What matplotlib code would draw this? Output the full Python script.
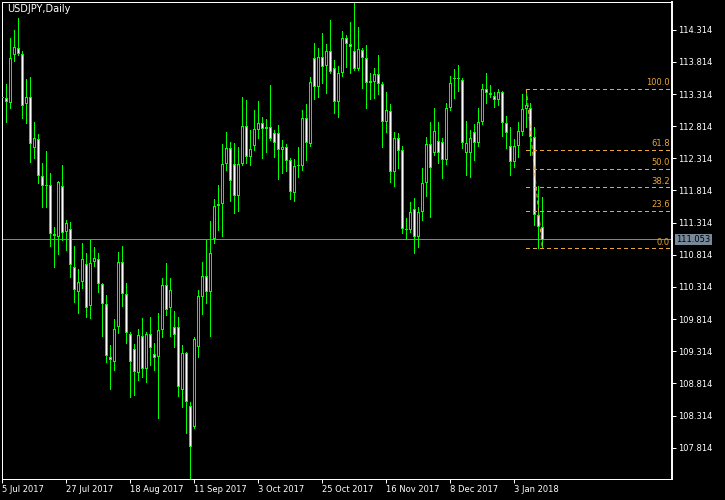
"""
USDJPY daily candles with a Fibonacci retracement, MT4 style (black scheme).
"""
import matplotlib
matplotlib.use("Agg")
import matplotlib.pyplot as plt
import matplotlib.transforms as mtransforms

symbol_title = "USDJPY,Daily"

# one entry per daily bar, starting 5 Jul 2017
opens = [
    113.26, 113.25, 113.17, 113.92, 114.03, 113.94, 113.16, 113.27, 112.47, 112.61,
    112.04, 111.88, 111.90, 111.14, 111.09, 111.88, 111.17, 111.22, 110.62, 110.24,
    110.39, 110.67, 110.02, 110.70, 110.75, 110.36, 110.05, 109.22, 109.15, 109.69,
    110.70, 110.20, 109.58, 109.35, 108.98, 109.55, 109.04, 109.58, 109.27, 109.22,
    109.64, 110.34, 109.99, 109.69, 109.69, 108.71, 109.29, 108.46, 108.14, 109.38,
    110.16, 110.48, 110.24, 111.06, 111.57, 111.60, 112.23, 112.47, 112.23, 111.73,
    112.23, 112.82, 112.33, 112.51, 112.75, 112.86, 112.77, 112.80, 112.71, 112.71,
    112.44, 112.49, 112.29, 111.78, 112.19, 112.19, 112.94, 112.54, 113.87, 113.42,
    113.89, 113.75, 113.98, 113.72, 113.19, 113.64, 114.19, 114.09, 113.98, 113.70,
    114.00, 113.87, 113.49, 113.50, 113.63, 113.47, 112.88, 113.05, 112.10, 112.63,
    112.44, 111.21, 111.20, 111.53, 111.09, 111.48, 111.93, 112.54, 112.40, 112.58,
    112.57, 112.29, 113.10, 113.55, 113.56, 113.53, 112.40, 112.40, 112.72, 112.55,
    112.88, 113.39, 113.33, 113.28, 113.22, 113.35, 112.86, 112.51, 112.26, 112.51,
    112.72, 113.08, 113.10, 112.65, 111.43, 111.25,
]
highs = [
    113.28, 113.47, 114.19, 114.31, 114.50, 113.98, 113.55, 113.58, 112.88, 112.69,
    112.24, 112.43, 112.09, 111.25, 111.96, 112.21, 111.36, 111.32, 110.95, 110.59,
    111.00, 110.84, 111.04, 110.94, 110.84, 110.38, 110.19, 109.41, 109.82, 110.86,
    110.95, 110.38, 109.61, 109.43, 109.66, 109.83, 109.61, 109.85, 109.44, 109.91,
    110.45, 110.69, 110.45, 109.94, 109.85, 109.41, 109.30, 108.52, 109.54, 110.27,
    110.70, 111.04, 111.34, 111.68, 111.90, 112.54, 112.72, 112.57, 112.55, 112.49,
    113.27, 113.22, 112.75, 113.07, 113.21, 112.96, 112.93, 113.45, 112.75, 112.83,
    112.60, 112.54, 112.32, 112.30, 112.49, 113.07, 113.16, 113.58, 114.11, 114.03,
    114.26, 114.09, 114.47, 113.84, 113.75, 114.29, 114.23, 114.43, 114.73, 114.36,
    114.03, 114.08, 113.64, 113.72, 113.92, 113.50, 113.35, 113.16, 112.72, 112.71,
    112.51, 111.39, 111.63, 111.70, 111.56, 112.16, 112.65, 112.88, 113.10, 112.88,
    112.63, 113.17, 113.59, 113.70, 113.77, 113.56, 112.89, 112.75, 112.85, 113.10,
    113.47, 113.64, 113.45, 113.35, 113.39, 113.36, 112.97, 112.80, 112.61, 112.88,
    113.31, 113.39, 113.17, 112.80, 111.88, 111.71,
]
lows = [
    113.24, 112.88, 113.10, 113.83, 113.92, 112.94, 112.86, 112.26, 112.32, 111.93,
    111.56, 111.56, 110.95, 110.62, 110.83, 111.04, 110.89, 110.47, 110.08, 109.91,
    110.30, 109.85, 109.83, 110.64, 110.24, 109.55, 109.15, 108.73, 109.02, 109.60,
    110.02, 109.44, 108.60, 108.63, 108.87, 108.91, 108.84, 109.10, 109.02, 108.28,
    109.54, 109.88, 109.55, 109.38, 108.62, 108.45, 108.04, 107.34, 108.12, 109.22,
    109.89, 110.06, 109.55, 111.00, 111.20, 111.11, 112.13, 111.65, 111.46, 111.50,
    112.21, 112.24, 112.21, 112.44, 112.63, 112.32, 112.41, 112.60, 112.33, 111.99,
    112.09, 112.12, 111.68, 111.65, 112.02, 112.13, 112.29, 112.51, 113.24, 113.27,
    113.49, 113.33, 113.64, 113.02, 112.96, 113.59, 113.73, 113.64, 113.68, 113.68,
    113.41, 113.10, 113.24, 113.25, 113.31, 112.49, 112.72, 111.95, 111.88, 112.16,
    111.15, 111.06, 111.17, 110.84, 110.93, 111.35, 111.73, 111.40, 112.37, 112.24,
    112.01, 112.23, 113.07, 113.25, 113.36, 112.47, 112.05, 112.02, 112.29, 112.51,
    112.85, 113.17, 113.27, 113.11, 113.14, 112.66, 112.47, 112.05, 112.18, 112.33,
    112.68, 112.80, 112.37, 111.28, 110.92, 110.92,
]
closes = [
    113.25, 113.19, 113.87, 114.05, 113.94, 113.13, 113.27, 112.54, 112.63, 112.04,
    111.88, 111.90, 111.14, 111.11, 111.95, 111.15, 111.31, 110.66, 110.27, 110.39,
    110.75, 109.99, 110.69, 110.76, 110.36, 110.05, 109.24, 109.18, 109.66, 110.70,
    110.20, 109.60, 109.15, 108.99, 109.57, 109.04, 109.58, 109.36, 109.21, 109.64,
    110.34, 109.96, 110.27, 109.57, 108.76, 109.29, 108.52, 107.82, 109.50, 110.17,
    110.48, 110.24, 110.84, 111.57, 111.60, 112.23, 112.47, 111.96, 111.73, 112.23,
    112.82, 112.33, 112.46, 112.77, 112.86, 112.77, 112.80, 112.61, 112.55, 112.44,
    112.49, 112.27, 111.79, 112.19, 112.21, 112.94, 112.55, 113.50, 113.42, 113.89,
    113.73, 113.98, 113.66, 113.19, 113.64, 114.19, 114.09, 114.05, 113.70, 114.01,
    113.87, 113.49, 113.52, 113.63, 113.47, 112.88, 113.07, 112.10, 112.63, 112.43,
    111.21, 111.20, 111.48, 111.09, 111.48, 111.93, 112.54, 112.16, 112.74, 112.40,
    112.29, 113.10, 113.49, 113.56, 113.55, 112.55, 112.55, 112.63, 112.55, 112.88,
    113.39, 113.33, 113.30, 113.22, 113.35, 112.86, 112.71, 112.26, 112.51, 112.74,
    113.08, 113.14, 112.65, 111.43, 111.25, 111.05,
]

date_labels = ["5 Jul 2017", "27 Jul 2017", "18 Aug 2017", "11 Sep 2017", "3 Oct 2017",
               "25 Oct 2017", "16 Nov 2017", "8 Dec 2017", "3 Jan 2018"]
bars_per_label = 16

price_ticks = [107.814, 108.314, 108.814, 109.314, 109.814, 110.314, 110.814,
               111.314, 111.814, 112.314, 112.814, 113.314, 113.814, 114.314]

fib_levels = [100.0, 61.8, 50.0, 38.2, 23.6, 0.0]
fib_high = 113.39
fib_low = 110.915
fib_start_bar = 131
fib_end_bar = 135

last_price = 111.053

# colours (MT4 "green on black")
BG = "black"
FG = "white"
CANDLE = "#00ff00"
FIB = "#e9a53a"
PRICE_LINE = "#778899"
PX = 0.72  # one pixel in points at 100 dpi

Y_MIN, Y_MAX = 107.327, 114.745
AX_H_PX = 477
px_price = (Y_MAX - Y_MIN) / AX_H_PX   # one screen pixel in price units

fig = plt.figure(figsize=(7.25, 5), dpi=100, facecolor=BG)
ax = fig.add_axes([2 / 725, 21 / 500, 670 / 725, AX_H_PX / 500])
ax.set_facecolor(BG)

n = len(opens)
xs = list(range(n))

# wicks
ax.vlines(xs, lows, highs, color=CANDLE, lw=PX, zorder=2, antialiased=False)

# bodies: 3px green block with a 1px inner strip (bear = white, bull = black)
bottoms = [min(o, c) for o, c in zip(opens, closes)]
heights = [max(abs(c - o), px_price) for o, c in zip(opens, closes)]
faces = ["white" if c < o else "black" for o, c in zip(opens, closes)]
ax.bar(xs, heights, width=0.75, bottom=bottoms, color=CANDLE, linewidth=0,
       zorder=3, antialiased=False)
inner_h = [max(h - 2 * px_price, 0) for h in heights]
inner_b = [b + px_price for b in bottoms]
ax.bar(xs, inner_h, width=0.25, bottom=inner_b, color=faces, linewidth=0,
       zorder=3.5, antialiased=False)

x_right = 167.42
ax.set_xlim(-0.075, x_right)
ax.set_ylim(Y_MIN, Y_MAX)

# bid line
ax.axhline(last_price, color=PRICE_LINE, lw=PX, zorder=1, antialiased=False)

# fibonacci retracement
dash = (0, (4, 3))
ax.plot([fib_start_bar, fib_end_bar], [fib_high, fib_low], color=FIB,
        lw=PX, ls=dash, zorder=4)
for lvl in fib_levels:
    price = fib_low + (fib_high - fib_low) * lvl / 100.0
    ax.plot([fib_start_bar, x_right], [price, price], color=FIB, lw=PX,
            ls=dash, zorder=4, clip_on=False, antialiased=False)
    ax.annotate(f"{lvl:.1f}", xy=(x_right, price), xytext=(-1.5, 1.2),
                textcoords="offset points", ha="right", va="bottom",
                color=FIB, fontsize=6, zorder=5)

# frame and axes
for side, sp in ax.spines.items():
    sp.set_color(FG)
    sp.set_linewidth(PX)
ax.spines["right"].set_linewidth(1.4)

ax.yaxis.tick_right()
ax.set_yticks(price_ticks)
ax.set_yticklabels([f"{p:.3f}" for p in price_ticks])
ax.tick_params(axis="y", colors=FG, length=3, width=PX, labelsize=6, pad=1.2)

ax.set_xticks([k * bars_per_label for k in range(len(date_labels))])
ax.set_xticklabels(date_labels)
ax.tick_params(axis="x", colors=FG, length=3.2, width=PX, labelsize=6, pad=1)
for lbl in ax.get_xticklabels():
    lbl.set_ha("left")

# current price tag on the right scale
blend = mtransforms.blended_transform_factory(ax.transAxes, ax.transData)
ax.annotate(f"{last_price:.3f}", xy=(1, last_price), xycoords=blend,
            xytext=(3.2, 0), textcoords="offset points", ha="left", va="center",
            fontsize=6, color="black", annotation_clip=False,
            bbox=dict(boxstyle="square,pad=0.15", fc=PRICE_LINE, ec="none"))

fig.text(7 / 725, 1 - 9 / 500, symbol_title, color=FG, fontsize=7,
         ha="left", va="center")

fig.savefig("out.png", dpi=100, facecolor=BG)
